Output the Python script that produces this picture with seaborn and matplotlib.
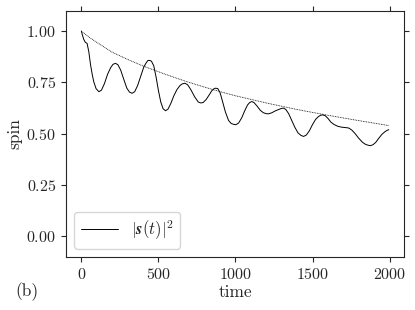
import numpy as np
import pandas as pd
import seaborn as sns
import matplotlib.pyplot as plt

# oscillating spin curve
t_spin = [0, 5, 15, 26, 37, 48, 59, 70, 80, 95, 113, 130, 150, 170, 190, 205,
          221, 237, 255, 275, 295, 312, 329, 346, 365, 385, 405, 420, 432,
          445, 455, 470, 485, 500, 515, 530, 546, 562, 580, 600, 620, 640,
          655, 672, 690, 710, 735, 758, 774, 790, 810, 830, 845, 858, 870,
          885, 900, 915, 935, 955, 972, 988, 1002, 1020, 1040, 1060, 1078,
          1092, 1106, 1120, 1140, 1160, 1180, 1198, 1214, 1235, 1260, 1280,
          1297, 1312, 1327, 1345, 1365, 1385, 1405, 1425, 1442, 1460, 1480,
          1500, 1520, 1537, 1552, 1566, 1582, 1600, 1620, 1640, 1665, 1690,
          1715, 1735, 1755, 1775, 1800, 1825, 1845, 1862, 1876, 1893, 1910,
          1930, 1950, 1970, 1985, 1995]
spin = [1.0, 0.985, 0.96, 0.945, 0.94, 0.9, 0.838, 0.79, 0.754, 0.72, 0.705,
        0.712, 0.745, 0.79, 0.822, 0.838, 0.843, 0.836, 0.81, 0.765, 0.722,
        0.703, 0.697, 0.705, 0.735, 0.78, 0.825, 0.845, 0.857, 0.857, 0.853,
        0.83, 0.775, 0.71, 0.655, 0.622, 0.612, 0.62, 0.647, 0.685, 0.715,
        0.735, 0.743, 0.746, 0.738, 0.715, 0.68, 0.655, 0.65, 0.652, 0.667,
        0.69, 0.708, 0.718, 0.722, 0.72, 0.70, 0.66, 0.605, 0.565, 0.55,
        0.546, 0.544, 0.552, 0.577, 0.612, 0.64, 0.652, 0.657, 0.652, 0.635,
        0.615, 0.603, 0.598, 0.597, 0.602, 0.612, 0.618, 0.623, 0.625, 0.618,
        0.598, 0.565, 0.532, 0.505, 0.492, 0.487, 0.494, 0.515, 0.545, 0.57,
        0.583, 0.59, 0.592, 0.588, 0.575, 0.556, 0.545, 0.536, 0.532, 0.53,
        0.528, 0.518, 0.502, 0.478, 0.458, 0.448, 0.444, 0.442, 0.447, 0.458,
        0.478, 0.497, 0.51, 0.517, 0.52]

# dotted envelope
t_env = [0, 50, 100, 200, 300, 400, 500, 600, 700, 800, 900, 1000, 1200,
         1400, 1600, 1800, 1995]
env = [1.0, 0.97, 0.945, 0.897, 0.862, 0.83, 0.802, 0.775, 0.75, 0.727,
       0.705, 0.685, 0.65, 0.618, 0.59, 0.564, 0.54]

sns.set_style('ticks')
plt.rcParams['font.family'] = 'serif'
plt.rcParams['font.serif'] = ['cmr10']
plt.rcParams['mathtext.fontset'] = 'cm'
plt.rcParams['axes.formatter.use_mathtext'] = True
plt.rcParams['axes.unicode_minus'] = False

fig = plt.figure(figsize=(4.15, 3.1), dpi=100)
ax = fig.add_axes([0.159, 0.171, 0.815, 0.795])

df_spin = pd.DataFrame({'time': t_spin, 'spin': spin})
df_env = pd.DataFrame({'time': t_env, 'spin': env})

sns.lineplot(data=df_spin, x='time', y='spin', ax=ax, color='black',
             linewidth=0.7, label=r'$|\boldsymbol{s}(t)|^2$')
sns.lineplot(data=df_env, x='time', y='spin', ax=ax, color='black',
             linewidth=0.6, linestyle=(0, (1, 1)))

ax.set_ylim(-0.1, 1.1)
ax.set_xlim(-100, 2095)
ax.set_yticks([0.0, 0.25, 0.5, 0.75, 1.0])
ax.set_xticks([0, 500, 1000, 1500, 2000])
ax.tick_params(direction='out', top=True, right=True, labelsize=11.5)
ax.set_xlabel('time', fontsize=12.5, labelpad=2)
ax.set_ylabel('spin', fontsize=12.5, labelpad=3)
ax.legend(loc='lower left', fontsize=12, handlelength=2.2)

fig.text(0.038, 0.06, '(b)', fontsize=12.5, va='center')

fig.savefig('out.png', dpi=100)
